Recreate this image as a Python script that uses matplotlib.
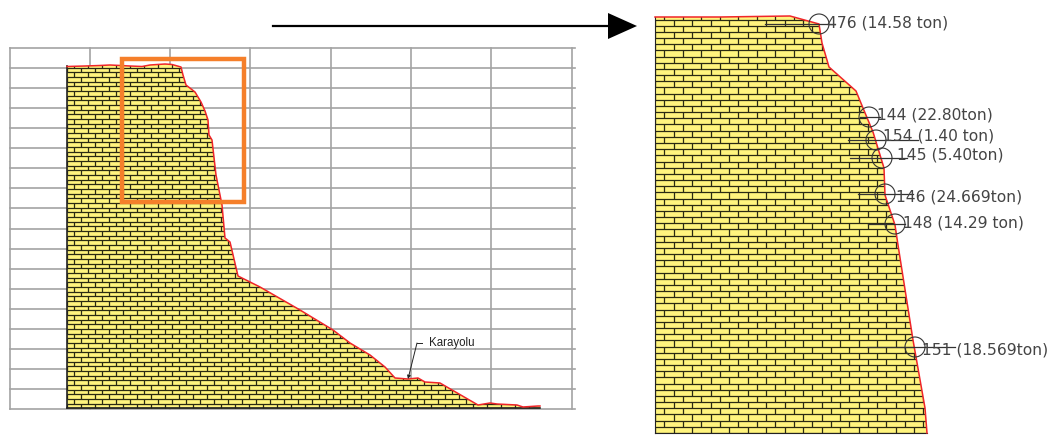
import matplotlib
matplotlib.use('Agg')
import matplotlib.pyplot as plt
from matplotlib.patches import Polygon, Circle, Rectangle
from matplotlib.collections import LineCollection
import numpy as np

# profile of the slope (pixel coordinates)
left_x = [67, 85, 100, 110, 120, 130, 142, 150, 165, 172, 181, 183, 186, 195, 201, 205, 208, 209, 212, 216, 222, 225,
          230, 238, 260, 300, 333, 350, 370, 385, 395, 408, 418, 425, 440, 478, 490, 497, 517, 523, 538, 540]
left_y = [66.5, 66, 65.5, 65, 65.5, 66, 66.5, 65, 64, 64.5, 67, 75, 85, 92, 102, 111, 120, 135, 140, 175, 205, 238,
          242, 276, 287, 310, 330, 343, 355, 367, 378, 379, 378, 382, 383, 405, 403, 404, 405, 407, 406, 406]
left_base = 408.5

right_x = [655, 720, 790, 819, 822, 829, 856, 863, 873, 884, 885, 895, 898, 913, 925, 927]
right_y = [17, 17, 16, 24, 43, 67, 91, 108, 132, 168, 195, 225, 245, 340, 408, 433]
right_base = 433

grid_x = [10, 90, 170, 250, 331, 411, 491, 572]
grid_y = [48, 68, 88, 108, 128, 148, 168, 188, 208, 229, 249, 269, 289, 309, 329, 349, 369, 389, 409]

labels = ['476 (14.58 ton)', '144 (22.80ton)', '154 (1.40 ton)', '145 (5.40ton)',
          '146 (24.669ton)', '148 (14.29 ton)', '151 (18.569ton)']
circle_x = [819, 869, 876, 882, 885, 895, 915]
circle_y = [24, 117, 140, 158, 194, 224, 347]
label_x = [827, 877, 883, 897, 896, 903, 922]
label_y = [23, 115, 136, 155, 197, 223, 350]
lead_x0 = [765, 860, 848, 850, 858, 868, 867]
lead_x1 = [835, 880, 918, 907, 913, 905, 955]

YELLOW = '#FFF47E'
BRICK = '#2a2a12'
RED = '#F0252A'


def brick_wall(ax, xs, ys, base, bw, bh, lw, edge):
    poly = Polygon(list(zip(xs, ys)) + [(xs[-1], base), (xs[0], base)], closed=True, fc=YELLOW, ec='none', zorder=2)
    ax.add_patch(poly)
    segs = []
    x0, x1 = min(xs), max(xs)
    rows = np.arange(base, min(ys) - bh, -bh)
    for i, y in enumerate(rows):
        segs.append([(x0, y), (x1, y)])
        off = bw / 2 if i % 2 else 0
        for x in np.arange(x0 + off, x1, bw):
            segs.append([(x, y), (x, y - bh)])
    lc = LineCollection(segs, colors=BRICK, linewidths=lw, zorder=3)
    ax.add_collection(lc)
    lc.set_clip_path(poly)
    ax.plot(xs, ys, color=RED, lw=1.1, zorder=5)
    ax.plot([xs[0], xs[0]], [ys[0], base], color='#222222', lw=edge, zorder=4)
    ax.plot([xs[0], xs[-1]], [base, base], color='#222222', lw=edge, zorder=4)


fig = plt.figure(figsize=(10.58, 4.4), dpi=100)
ax = fig.add_axes([0, 0, 1, 1])
ax.set_xlim(0, 1058)
ax.set_ylim(440, 0)
ax.axis('off')

# grid behind the left profile
for gx in grid_x:
    ax.plot([gx, gx], [grid_y[0], grid_y[-1]], color='#a3a3a3', lw=1.2, zorder=1)
for gy in grid_y:
    ax.plot([grid_x[0], 575], [gy, gy], color='#a3a3a3', lw=1.2, zorder=1)

brick_wall(ax, left_x, left_y, left_base, 14, 4.67, 0.9, 1.2)
brick_wall(ax, right_x, right_y, right_base, 18.5, 6.17, 0.9, 0.8)

# orange zoom window
ax.add_patch(Rectangle((121.5, 59), 122, 143, fc='none', ec='#F57F2A', lw=3.2, zorder=6))

# big arrow
ax.plot([273, 610], [26, 26], color='black', lw=1.6, zorder=6)
ax.add_patch(Polygon([(608, 13), (637, 26), (608, 39)], closed=True, fc='black', ec='none', zorder=6))

# Karayolu note
ax.annotate('', xy=(408, 379), xytext=(417, 343),
            arrowprops=dict(arrowstyle='-|>', color='#222222', lw=0.7, mutation_scale=5, shrinkA=0, shrinkB=0), zorder=6)
ax.plot([417, 422], [343, 343], color='#222222', lw=0.7, zorder=6)
ax.text(429, 343, 'Karayolu', family='Liberation Sans', fontsize=8.3, color='#222222', va='center', ha='left', zorder=6)

# circled points with tonnage labels
for cx, cy, tx, ty, lb, a, b in zip(circle_x, circle_y, label_x, label_y, labels, lead_x0, lead_x1):
    ax.add_patch(Circle((cx, cy), 10, fc='none', ec='#333333', lw=0.8, zorder=7))
    ax.plot([a, b], [cy, cy], color='#333333', lw=0.9, zorder=7)
    ax.text(tx, ty, lb, fontsize=11.2, color='#444444', va='center', ha='left', zorder=8)

fig.savefig('out.png', dpi=100)
